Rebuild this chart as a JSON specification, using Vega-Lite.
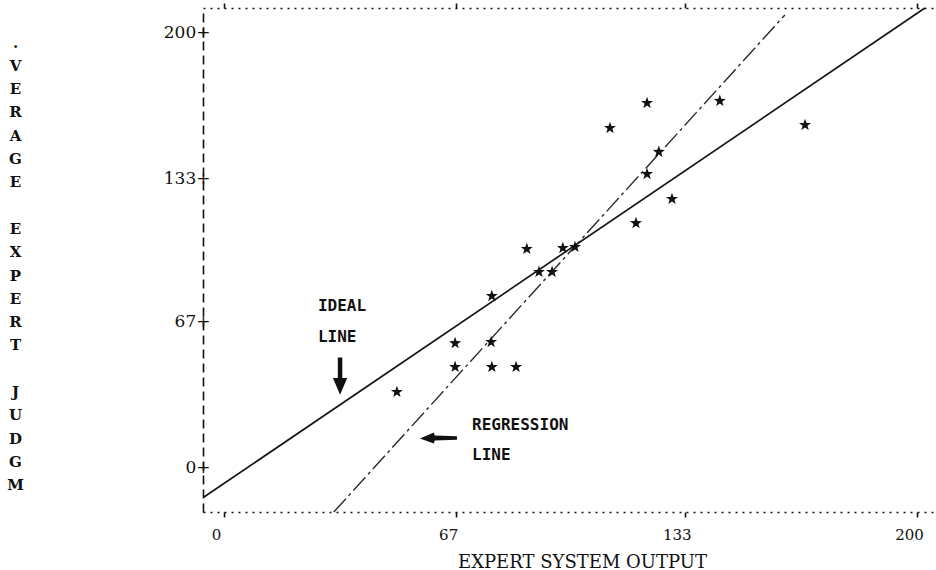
{
  "$schema": "https://vega.github.io/schema/vega-lite/v6.json",
  "width": 733,
  "height": 504,
  "autosize": {"type": "none"},
  "padding": {"left": 203, "top": 8, "right": 0, "bottom": 58},
  "background": "white",
  "config": {"view": {"stroke": null}, "font": "DejaVu Serif"},
  "datasets": {
    "lines": [
      {"line": "ideal", "x": -5.77, "y": -13.8},
      {"line": "ideal", "x": 202.3, "y": 211.5},
      {"line": "regression", "x": 31.7, "y": -20.7},
      {"line": "regression", "x": 161.9, "y": 208.3}
    ],
    "stars": [
      {"x": 122.1, "y": 167.7},
      {"x": 111.4, "y": 156.2},
      {"x": 125.5, "y": 145.2},
      {"x": 122.1, "y": 135.0},
      {"x": 129.3, "y": 123.5},
      {"x": 118.9, "y": 112.4},
      {"x": 87.4, "y": 100.5},
      {"x": 97.8, "y": 100.9},
      {"x": 101.3, "y": 101.4},
      {"x": 90.9, "y": 89.9},
      {"x": 94.7, "y": 89.9},
      {"x": 77.3, "y": 78.8},
      {"x": 66.7, "y": 57.1},
      {"x": 77.1, "y": 57.6},
      {"x": 66.7, "y": 46.1},
      {"x": 77.3, "y": 46.1},
      {"x": 84.3, "y": 46.1},
      {"x": 49.9, "y": 34.6},
      {"x": 143.1, "y": 168.7},
      {"x": 167.7, "y": 157.6}
    ],
    "notes": [
      {"text": "IDEAL", "x": 27.1, "y": 74.2},
      {"text": "LINE", "x": 27.1, "y": 59.9},
      {"text": "REGRESSION", "x": 71.6, "y": 19.4},
      {"text": "LINE", "x": 71.6, "y": 5.5}
    ],
    "arrows": [
      {"dir": "down", "x": 33.5, "y": 41.9},
      {"dir": "left", "x": 61.9, "y": 13.4}
    ]
  },
  "resolve": {"axis": {"x": "independent"}},
  "layer": [
    {
      "data": {"name": "lines"},
      "transform": [{"filter": "datum.line === 'ideal'"}],
      "mark": {"type": "line", "color": "#151515", "strokeWidth": 1.7},
      "encoding": {
        "x": {
          "field": "x", "type": "quantitative",
          "scale": {"domain": [-6.06, 205.5], "nice": false, "zero": false},
          "axis": {
            "orient": "bottom",
            "values": [0, 67, 133, 200],
            "format": "d",
            "grid": false,
            "domainColor": "#111",
            "domainDash": [2, 5],
            "domainWidth": 1.6,
            "tickColor": "#111",
            "tickSize": 5,
            "tickWidth": 1.6,
            "labelFont": "DejaVu Serif",
            "labelFontSize": 15,
            "labelColor": "#111",
            "labelPadding": 10,
            "labelOffset": -8,
            "title": "EXPERT SYSTEM OUTPUT",
            "titleFont": "DejaVu Serif",
            "titleFontSize": 18,
            "titleFontWeight": "normal",
            "titleColor": "#111",
            "titleX": 379,
            "titleY": 50,
            "titleBaseline": "middle",
            "titleAlign": "center"
          }
        },
        "y": {
          "field": "y", "type": "quantitative",
          "scale": {"domain": [-20.7, 211.5], "nice": false, "zero": false},
          "axis": {
            "values": [0, 67, 133, 200],
            "labelExpr": "datum.label + '+'",
            "ticks": false,
            "grid": false,
            "labelPadding": -7,
            "labelFont": "DejaVu Serif",
            "labelFontSize": 17,
            "labelColor": "#111",
            "labelBaseline": "middle",
            "domainColor": "#111",
            "domainDash": [9, 5],
            "domainWidth": 1.6,
            "title": [".", "V", "E", "R", "A", "G", "E", "\u200b", "E", "X", "P", "E", "R", "T", "\u200b", "J", "U", "D", "G", "M"],
            "titleAngle": 0,
            "titleX": -188,
            "titleY": 27,
            "titleAlign": "center",
            "titleBaseline": "top",
            "titleLineHeight": 23.3,
            "titleFont": "DejaVu Serif",
            "titleFontSize": 15,
            "titleFontWeight": "bold",
            "titleColor": "#111"
          }
        }
      }
    },
    {
      "data": {"name": "lines"},
      "transform": [{"filter": "datum.line === 'regression'"}],
      "mark": {"type": "line", "color": "#2a2a2a", "strokeWidth": 1.4, "strokeDash": [18, 4, 3, 4]},
      "encoding": {
        "x": {
          "field": "x", "type": "quantitative",
          "axis": {
            "orient": "top",
            "values": [0, 67, 133, 200],
            "labels": false,
            "title": null,
            "grid": false,
            "domainColor": "#111",
            "domainDash": [2, 5],
            "domainWidth": 1.6,
            "tickColor": "#111",
            "tickSize": 5,
            "tickWidth": 1.6
          }
        },
        "y": {"field": "y", "type": "quantitative"}
      }
    },
    {
      "data": {"name": "stars"},
      "mark": {
        "type": "point",
        "filled": true,
        "color": "#111",
        "opacity": 1,
        "size": 160,
        "shape": "M0,-1L0.235,-0.324L0.951,-0.309L0.38,0.124L0.588,0.809L0,0.4L-0.588,0.809L-0.38,0.124L-0.951,-0.309L-0.235,-0.324Z"
      },
      "encoding": {
        "x": {"field": "x", "type": "quantitative", "axis": null},
        "y": {"field": "y", "type": "quantitative"}
      }
    },
    {
      "data": {"name": "notes"},
      "mark": {
        "type": "text",
        "font": "DejaVu Sans Mono",
        "fontWeight": "bold",
        "fontSize": 16,
        "align": "left",
        "baseline": "middle",
        "color": "#111"
      },
      "encoding": {
        "x": {"field": "x", "type": "quantitative", "axis": null},
        "y": {"field": "y", "type": "quantitative"},
        "text": {"field": "text"}
      }
    },
    {
      "data": {"name": "arrows"},
      "transform": [{"filter": "datum.dir === 'down'"}],
      "mark": {
        "type": "point",
        "filled": true,
        "color": "#111",
        "opacity": 1,
        "size": 1400,
        "shape": "M-0.12,-1L0.12,-1L0.12,0.1L0.38,0.1L0,1L-0.38,0.1L-0.12,0.1Z"
      },
      "encoding": {
        "x": {"field": "x", "type": "quantitative", "axis": null},
        "y": {"field": "y", "type": "quantitative"}
      }
    },
    {
      "data": {"name": "arrows"},
      "transform": [{"filter": "datum.dir === 'left'"}],
      "mark": {
        "type": "point",
        "filled": true,
        "color": "#111",
        "opacity": 1,
        "size": 1370,
        "shape": "M1,-0.1L1,0.1L-0.2,0.14L-0.25,0.3L-1,0.03L-0.25,-0.3L-0.2,-0.14Z"
      },
      "encoding": {
        "x": {"field": "x", "type": "quantitative", "axis": null},
        "y": {"field": "y", "type": "quantitative"}
      }
    }
  ]
}
